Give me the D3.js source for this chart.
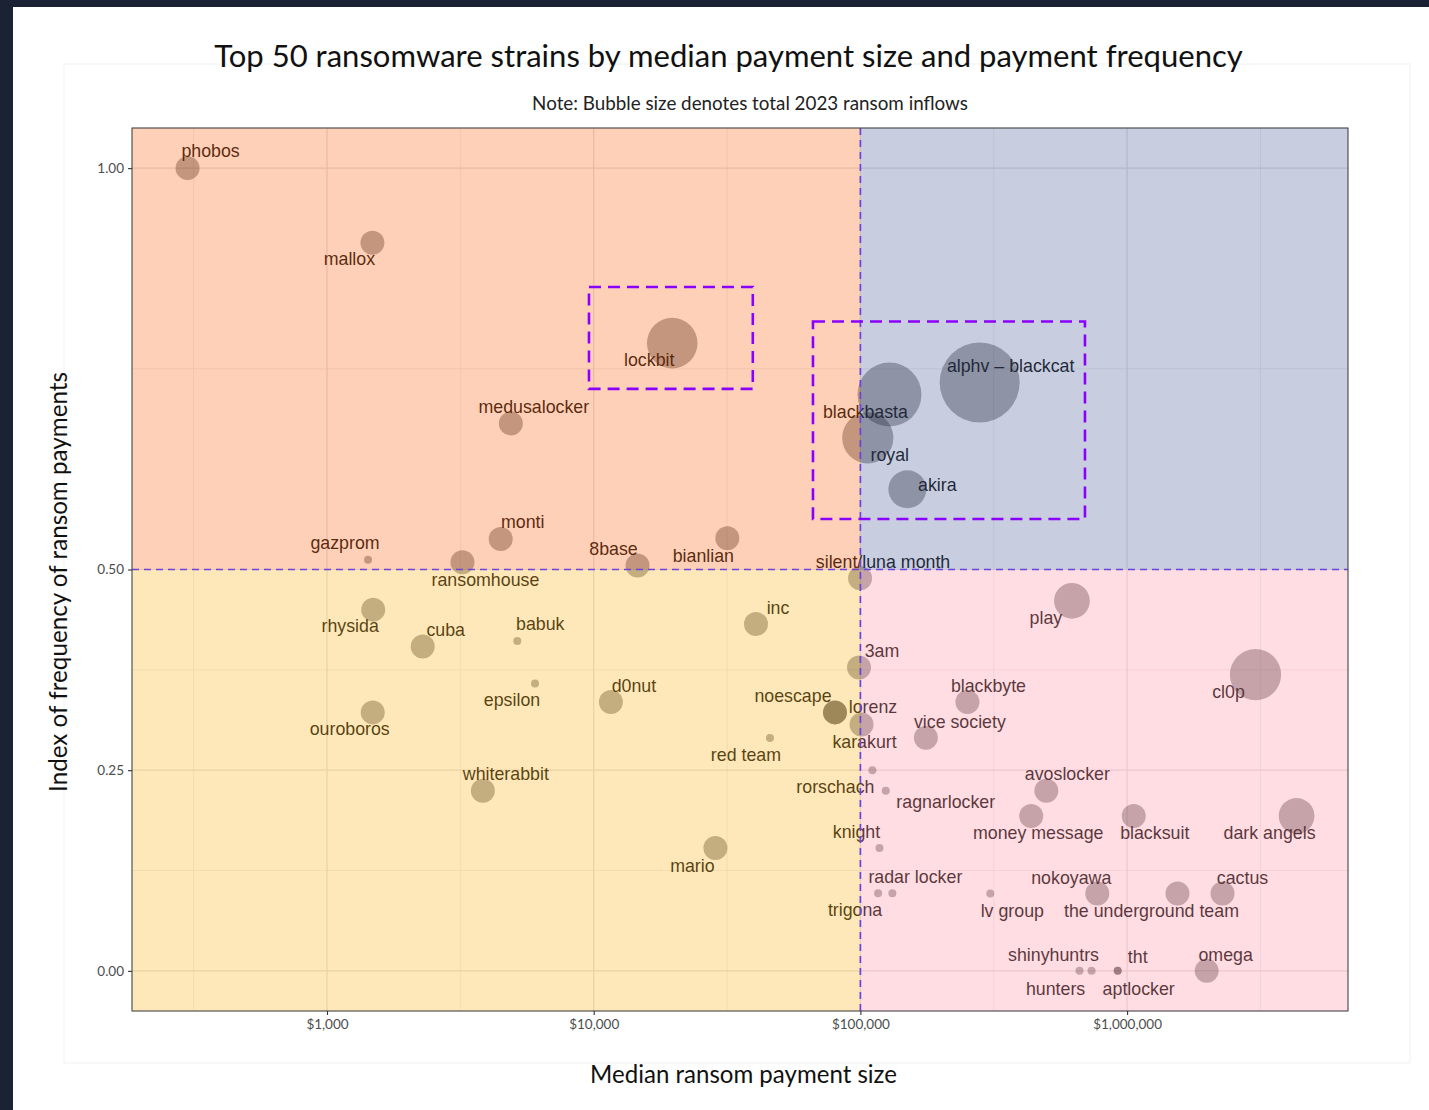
<!DOCTYPE html>
<html><head><meta charset="utf-8">
<script src="https://cdn.jsdelivr.net/npm/d3@7"></script>
<style>body{margin:0;background:#1b2234;} svg{display:block}</style>
</head><body><svg id="chart" width="1429" height="1110"></svg>
<script>
// ---------------- data ----------------
const strains = ["phobos","mallox","lockbit","medusalocker","monti","gazprom","ransomhouse","8base","bianlian",
  "alphv – blackcat","blackbasta","royal","akira","silent/luna month","rhysida","cuba","babuk","inc","play","3am",
  "epsilon","d0nut","noescape","lorenz","ouroboros","karakurt","red team","vice society","blackbyte","cl0p",
  "whiterabbit","rorschach","ragnarlocker","avoslocker","money message","blacksuit","dark angels","knight","mario",
  "radar locker","trigona","lv group","nokoyawa","the underground team","cactus","shinyhuntrs","hunters","tht","aptlocker","omega"];
const medianPayment = [300,1480,19700,4890,4480,1425,3220,14600,31700,
  280000,128500,106600,150000,99700,1490,2285,5170,40600,621000,98800,
  6025,11600,80300,80300,1484,101000,45800,176000,252000,3030000,
  3840,110900,124500,498000,437000,1059000,4320000,117900,28600,
  131800,116500,307000,773000,1545000,2279000,663000,736000,922000,922000,1988000];
const frequencyIndex = [1.00,0.907,0.782,0.682,0.538,0.512,0.509,0.505,0.539,
  0.733,0.718,0.664,0.600,0.489,0.450,0.404,0.411,0.432,0.461,0.378,
  0.358,0.335,0.322,0.322,0.322,0.307,0.290,0.2905,0.335,0.369,
  0.2245,0.250,0.2245,0.2245,0.193,0.193,0.193,0.153,0.153,
  0.0968,0.0968,0.0963,0.0963,0.0963,0.0963,0,0,0,0,0];
// relative total 2023 inflows
const inflows = [9,9,40,9,9,1,9,9,9,
  100,64,41,22.5,9,9,9,1,9,20,9,
  1,9,9,9,9,9,1,9,9,41,
  9,1,1,9,9,9,20,1,9,
  1,1,1,9,9,9,1,1,1,1,9];
const xTickValues = [1000,10000,100000,1000000];
const yTickValues = [0,0.25,0.5,1];
const xMinorBreaks = [10**2.5,10**3.5,10**4.5,10**5.5,10**6.5];
const yMinorBreaks = [0.125,0.375,0.75];
const xThreshold = 100000, yThreshold = 0.5;
const boxXRanges = [[9600,39500],[66400,695000]];
const boxYRanges = [[0.725,0.852],[0.563,0.809]];

// ---------------- layout ----------------
const labelOffsets = {
 "phobos":[23,-17],"mallox":[-23,16],"lockbit":[-23,17],"medusalocker":[23,-16],"monti":[22,-17],
 "gazprom":[-23,-17],"ransomhouse":[23,18],"8base":[-24,-16],"bianlian":[-24,18],"alphv – blackcat":[31,-16],
 "blackbasta":[-24,17],"royal":[22,17],"akira":[30,-4],"silent/luna month":[23,-16],"rhysida":[-23,16],
 "cuba":[23,-17],"babuk":[23,-17],"inc":[22,-16],"play":[-26,17],"3am":[23,-16],"epsilon":[-23,17],
 "d0nut":[23,-16],"noescape":[-42,-16],"lorenz":[38,-5],"ouroboros":[-23,17],"karakurt":[3,18],
 "red team":[-24,17],"vice society":[34,-16],"blackbyte":[21,-16],"cl0p":[-27,17],"whiterabbit":[23,-17],
 "rorschach":[-37,17],"ragnarlocker":[60,11],"avoslocker":[21,-17],"money message":[7,17],"blacksuit":[21,17],
 "dark angels":[-27,17],"knight":[-23,-16],"mario":[-23,18],"radar locker":[23,-16],"trigona":[-23,17],
 "lv group":[22,17],"nokoyawa":[-26,-16],"the underground team":[-26,17],"cactus":[20,-16],
 "shinyhuntrs":[-26,-16],"hunters":[-36,18],"tht":[20,-14],"aptlocker":[21,18],"omega":[19,-16]
};
const P = {left:132, right:1348, top:128, bottom:1011};

const svg = d3.select("#chart");
svg.append("rect").attr("x",0).attr("y",0).attr("width",1429).attr("height",1110).attr("fill","#1b2234");
svg.append("rect").attr("x",13).attr("y",7).attr("width",1416).attr("height",1103).attr("fill","#ffffff");
svg.append("rect").attr("x",64).attr("y",64).attr("width",1346).attr("height",999)
  .attr("fill","none").attr("stroke","#f1f1f1").attr("stroke-width",1);

const x = d3.scaleLog().domain([10**2.2688, 10**6.8283]).range([P.left,P.right]);
const y = d3.scaleLinear().domain([-0.05,1.05]).range([P.bottom,P.top]);
const r = d3.scaleSqrt().domain([0,100]).range([0,40]);

const panel = svg.append("g");
panel.append("rect").attr("x",P.left).attr("y",P.top).attr("width",P.right-P.left).attr("height",P.bottom-P.top).attr("fill","#fff");
// grid
panel.selectAll(".gxm").data(xMinorBreaks.filter(v=>x(v)>P.left&&x(v)<P.right)).join("line")
  .attr("x1",d=>x(d)).attr("x2",d=>x(d)).attr("y1",P.top).attr("y2",P.bottom).attr("stroke","#e6e6e6").attr("stroke-width",0.7);
panel.selectAll(".gym").data(yMinorBreaks).join("line")
  .attr("y1",d=>y(d)).attr("y2",d=>y(d)).attr("x1",P.left).attr("x2",P.right).attr("stroke","#e6e6e6").attr("stroke-width",0.7);
panel.selectAll(".gx").data(xTickValues).join("line")
  .attr("x1",d=>x(d)).attr("x2",d=>x(d)).attr("y1",P.top).attr("y2",P.bottom).attr("stroke","#dedede").attr("stroke-width",1.2);
panel.selectAll(".gy").data(yTickValues).join("line")
  .attr("y1",d=>y(d)).attr("y2",d=>y(d)).attr("x1",P.left).attr("x2",P.right).attr("stroke","#dedede").attr("stroke-width",1.2);

const rows = strains.map((s,i)=>({name:s, v:medianPayment[i], f:frequencyIndex[i], size:inflows[i]}));
panel.selectAll("circle.pt").data(rows).join("circle")
  .attr("cx",d=>x(d.v)).attr("cy",d=>y(d.f)).attr("r",d=>r(d.size))
  .attr("fill","#000").attr("fill-opacity",0.35);
panel.selectAll("text.lbl").data(rows).join("text")
  .attr("x",d=>x(d.v)+(labelOffsets[d.name]||[0,0])[0])
  .attr("y",d=>y(d.f)+(labelOffsets[d.name]||[0,0])[1])
  .attr("text-anchor","middle").attr("dominant-baseline","central")
  .attr("font-family","'Liberation Sans', Arial, sans-serif").attr("font-size",17.8).attr("fill","#000")
  .text(d=>d.name);

// quadrant overlays
const quads = [
  {x0:x.domain()[0], x1:xThreshold, y0:yThreshold, y1:1.05, c:"rgb(255,121,52)"},
  {x0:xThreshold, x1:x.domain()[1], y0:yThreshold, y1:1.05, c:"rgb(98,115,164)"},
  {x0:x.domain()[0], x1:xThreshold, y0:-0.05, y1:yThreshold, c:"rgb(252,189,58)"},
  {x0:xThreshold, x1:x.domain()[1], y0:-0.05, y1:yThreshold, c:"rgb(255,158,172)"}
];
panel.selectAll("rect.q").data(quads).join("rect")
  .attr("x",d=>x(d.x0)).attr("width",d=>x(d.x1)-x(d.x0))
  .attr("y",d=>y(d.y1)).attr("height",d=>y(d.y0)-y(d.y1))
  .attr("fill",d=>d.c).attr("fill-opacity",0.35);

// threshold lines
panel.append("line").attr("x1",x(xThreshold)).attr("x2",x(xThreshold)).attr("y1",P.top).attr("y2",P.bottom)
  .attr("stroke","#6a44dc").attr("stroke-width",1.7).attr("stroke-dasharray","7,5");
panel.append("line").attr("x1",P.left).attr("x2",P.right).attr("y1",y(yThreshold)).attr("y2",y(yThreshold))
  .attr("stroke","#6a44dc").attr("stroke-width",1.7).attr("stroke-dasharray","7,5");

// highlight boxes
boxXRanges.forEach((bx,i)=>{
  const by = boxYRanges[i];
  panel.append("rect").attr("x",x(bx[0])).attr("width",x(bx[1])-x(bx[0]))
    .attr("y",y(by[1])).attr("height",y(by[0])-y(by[1]))
    .attr("fill","none").attr("stroke","#8a00ff").attr("stroke-width",2.6).attr("stroke-dasharray","12,7");
});

// border
panel.append("rect").attr("x",P.left).attr("y",P.top).attr("width",P.right-P.left).attr("height",P.bottom-P.top)
  .attr("fill","none").attr("stroke","#444").attr("stroke-width",1.1);

// axes
const xAxis = d3.axisBottom(x).tickValues(xTickValues).tickFormat(d=>"$"+d3.format(",")(d)).tickSize(4).tickPadding(4);
const gx = svg.append("g").attr("transform",`translate(0,${P.bottom})`).call(xAxis);
const yAxis = d3.axisLeft(y).tickValues(yTickValues).tickFormat(d3.format(".2f")).tickSize(4).tickPadding(4);
const gy = svg.append("g").attr("transform",`translate(${P.left},0)`).call(yAxis);
[gx,gy].forEach(g=>{
  g.select(".domain").remove();
  g.selectAll(".tick line").attr("stroke","#333").attr("stroke-width",1.1);
  g.selectAll(".tick text").attr("fill","#4d4d4d").attr("font-size",13.5).attr("font-family","Lato, sans-serif");
});

function fit(sel, target){
  const w = sel.node().getComputedTextLength();
  const fs = parseFloat(sel.attr("font-size"));
  sel.attr("font-size", fs*target/w);
}
const tfont = "Lato, 'Noto Sans', sans-serif";
const title = svg.append("text").attr("x",728.5).attr("y",67).attr("text-anchor","middle")
  .attr("font-family",tfont).attr("font-size",30).attr("fill","#111")
  .text("Top 50 ransomware strains by median payment size and payment frequency");
fit(title,1029);
const sub = svg.append("text").attr("x",750).attr("y",110).attr("text-anchor","middle")
  .attr("font-family",tfont).attr("font-size",17).attr("fill","#222")
  .text("Note: Bubble size denotes total 2023 ransom inflows");
fit(sub,436);
const xt = svg.append("text").attr("x",743.5).attr("y",1083).attr("text-anchor","middle")
  .attr("font-family",tfont).attr("font-size",22).attr("fill","#111")
  .text("Median ransom payment size");
fit(xt,307);
const yt = svg.append("text").attr("transform","translate(67,582) rotate(-90)").attr("text-anchor","middle")
  .attr("font-family",tfont).attr("font-size",22).attr("fill","#111")
  .text("Index of frequency of ransom payments");
fit(yt,420);
</script></body></html>
